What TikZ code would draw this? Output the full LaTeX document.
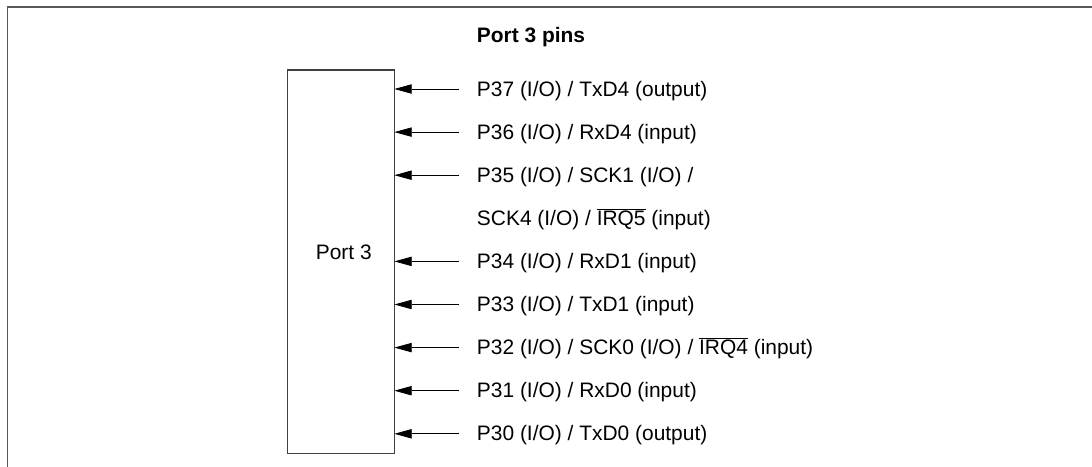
\documentclass[tikz,border=0pt]{standalone}
\usepackage{fontspec}
\setmainfont{Liberation Sans}
\usetikzlibrary{arrows.meta}
\tikzset{
  frame/.style={draw=black!65, line width=1.1pt},
  portbox/.style={draw=black!75, line width=1.1pt, minimum width=80pt, minimum height=287.8pt, inner sep=0pt, outer sep=0pt, anchor=north west},
  pinlabel/.style={anchor=base west, inner sep=0pt, font=\fontsize{15.7}{18}\selectfont},
  pin/.style={draw=black, line width=0.6pt, -{Triangle[length=13pt,width=7pt]}},
}
\newcommand{\ovl}[1]{$\overline{\hbox{#1}}$}
\begin{document}
\begin{tikzpicture}[x=0.75pt,y=-0.75pt]
\useasboundingbox (0,0) rectangle (1092,467);
% frame
\coordinate (fbl) at (7.5,467);
\coordinate (ftl) at (7.5,7);
\coordinate (ftr) at (1092,7);
\draw[frame] (fbl) -- (ftl) -- (ftr);
% title
\node[pinlabel, font=\fontsize{15.7}{18}\selectfont\bfseries] (title) at (476.7,43) {Port 3 pins};
% box
\node[portbox] (port) at (287.7,70) {};
\node[anchor=base, inner sep=0pt, font=\fontsize{15.7}{18}\selectfont] (portlbl) at (343.8,259.3) {Port 3};
% pins
\foreach \nm/\yy/\txt in {
  37/89/{P37 (I/O) / TxD4 (output)},
  36/132.1/{P36 (I/O) / RxD4 (input)},
  35/175.2/{P35 (I/O) / SCK1 (I/O) /},
  34/261.4/{P34 (I/O) / RxD1 (input)},
  33/304.5/{P33 (I/O) / TxD1 (input)},
  32/347.6/{P32 (I/O) / SCK0 (I/O) / \ovl{IRQ4} (input)},
  31/390.7/{P31 (I/O) / RxD0 (input)},
  30/433.8/{P30 (I/O) / TxD0 (output)}}{
  \node[pinlabel] (t\nm) at (476.7,\yy+7) {\txt};
  \coordinate (s\nm) at (459,\yy);
  \draw[pin] (s\nm) -- (s\nm -| port.east);
}
\node[pinlabel] (t35b) at (476.7,225.3) {SCK4 (I/O) / \ovl{IRQ5} (input)};
\end{tikzpicture}
\end{document}
